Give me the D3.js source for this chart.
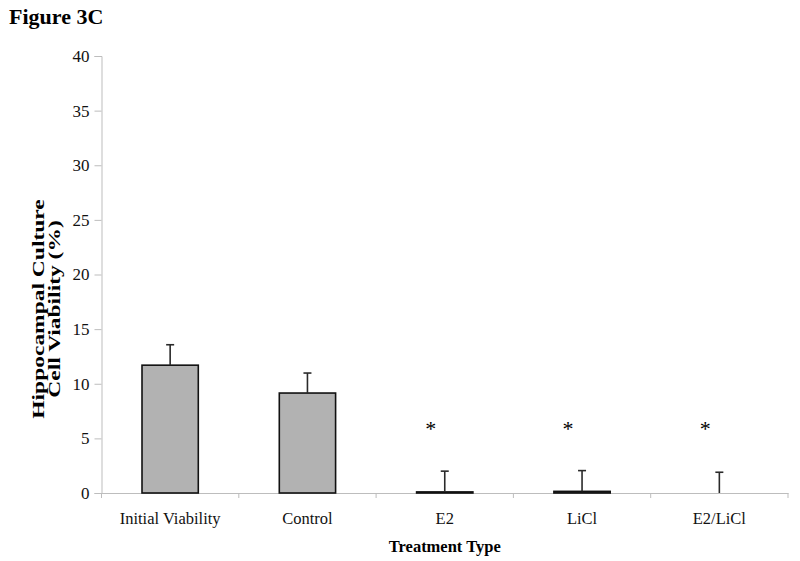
<!DOCTYPE html>
<html><head><meta charset="utf-8">
<script src="https://cdn.jsdelivr.net/npm/d3@7"></script>
<style>body{margin:0;background:#fff}svg{display:block}
svg text{font-family:'Liberation Serif','Times New Roman',serif}</style>
</head><body>
<script>
const categories = ["Initial Viability","Control","E2","LiCl","E2/LiCl"];
const values = [11.7, 9.15, 0.1, 0.15, 0];
const errors = [1.87, 1.83, 1.9, 1.9, 1.9];
const significant = [false, false, true, true, true];
const yTicks = [0,5,10,15,20,25,30,35,40];
const title = "Figure 3C";
const xTitle = "Treatment Type";
const yTitle = ["Hippocampal Culture","Cell Viability (%)"];

const W=800,H=561;
const svg=d3.select("body").append("svg").attr("width",W).attr("height",H);
const mLeft=101.5,mRight=788,mTop=56,mBottom=493;
const font="'Liberation Serif', 'Times New Roman', serif";

const x=d3.scaleBand().domain(categories).range([mLeft,mRight]).paddingInner(0).paddingOuter(0);
const y=d3.scaleLinear().domain([0,40]).range([mBottom,mTop]);
const barW=x.bandwidth()*0.41;

svg.append("text").attr("x",9).attr("y",24).style("font-family",font).style("font-weight","bold")
  .style("font-size","22px").text(title);

// y axis
const ya=svg.append("g").attr("transform",`translate(${mLeft},0)`)
  .call(d3.axisLeft(y).tickValues(yTicks).tickSize(7).tickPadding(5));
ya.attr("font-family",font);
ya.select(".domain").attr("stroke","#bdbdbd");
ya.selectAll(".tick line").attr("stroke","#bdbdbd");
ya.selectAll(".tick text").style("font-family",font).style("font-size","17px").attr("fill","#111");

// x axis
const xa=svg.append("g").attr("transform",`translate(0,${mBottom})`)
  .call(d3.axisBottom(x).tickSize(0).tickPadding(19).tickSizeOuter(0));
xa.attr("font-family",font);
xa.select(".domain").attr("stroke","#bdbdbd");
xa.selectAll(".tick text").style("font-family",font).style("font-size","16.5px").attr("fill","#111");
// boundary ticks
const bounds=categories.map(c=>x(c)).concat([x(categories[categories.length-1])+x.bandwidth()]);
svg.append("g").selectAll("line").data(bounds).join("line")
  .attr("x1",d=>d).attr("x2",d=>d).attr("y1",mBottom).attr("y2",mBottom+5).attr("stroke","#bdbdbd");

// bars
const data=categories.map((c,i)=>({c,v:values[i],e:errors[i],s:significant[i]}));
const cx=d=>x(d.c)+x.bandwidth()/2;
svg.append("g").selectAll("rect").data(data).join("rect")
  .attr("x",d=>cx(d)-barW/2).attr("width",barW)
  .attr("y",d=>y(d.v)).attr("height",d=>y(0)-y(d.v))
  .attr("fill","#b2b2b2").attr("stroke","#111").attr("stroke-width",d=>d.v>0?1.6:0);
// error bars
const eb=svg.append("g").attr("stroke","#2a2a2a").attr("stroke-width",1.6);
eb.selectAll(".v").data(data).join("line").attr("class","v")
  .attr("x1",cx).attr("x2",cx).attr("y1",d=>y(d.v)).attr("y2",d=>y(d.v+d.e));
eb.selectAll(".c").data(data).join("line").attr("class","c")
  .attr("x1",d=>cx(d)-4).attr("x2",d=>cx(d)+4).attr("y1",d=>y(d.v+d.e)).attr("y2",d=>y(d.v+d.e));
// asterisks
svg.append("g").selectAll("text").data(data.filter(d=>d.s)).join("text")
  .attr("x",d=>cx(d)-14).attr("y",y(6)+9).attr("text-anchor","middle")
  .style("font-family",font).style("font-size","22px").text("*");

// axis titles
svg.append("text").attr("x",(mLeft+mRight)/2).attr("y",552).attr("text-anchor","middle")
  .style("font-family",font).style("font-weight","bold").style("font-size","16.5px").text(xTitle);
const yt=svg.append("text").attr("transform","translate(44,309) scale(0.68,1) rotate(-90)").attr("text-anchor","middle")
  .style("font-family",font).style("font-weight","bold").style("font-size","23.5px");
yTitle.forEach((t,i)=>yt.append("tspan").attr("x",0).attr("dy",i?24:0).text(t));
</script>
</body></html>
